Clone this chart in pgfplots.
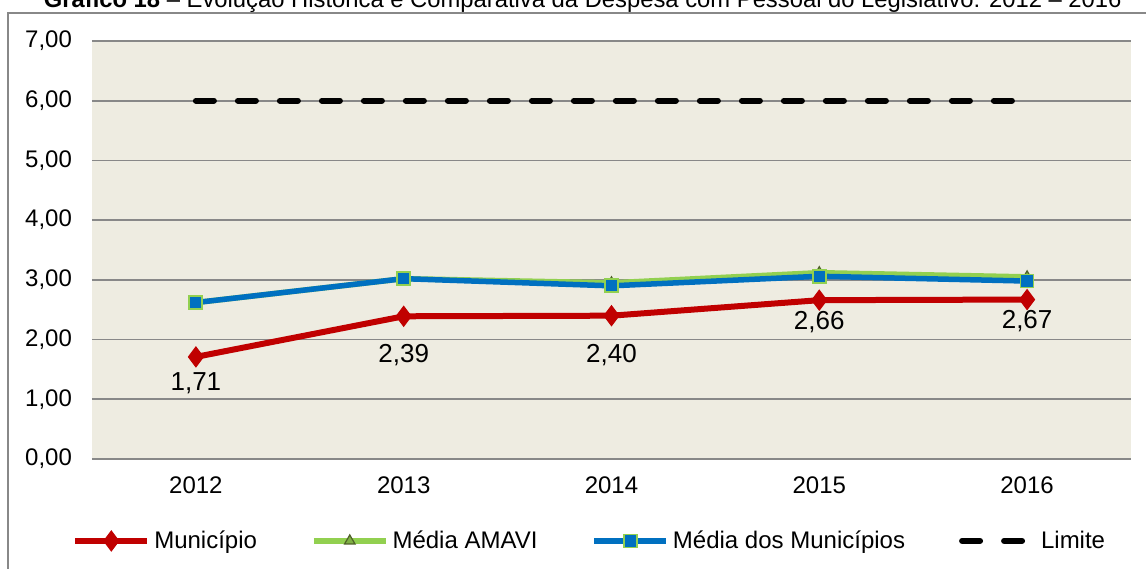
\documentclass[border=0pt]{standalone}
\usepackage{fontspec}
\setmainfont{Liberation Sans}
\usepackage{pgfplots}
\usepackage{pgfplotstable}
\pgfplotsset{compat=1.18}

\definecolor{munred}{HTML}{C00000}
\definecolor{amavi}{HTML}{92D050}
\definecolor{amavidk}{HTML}{4F6228}
\definecolor{medblue}{HTML}{0070C0}
\definecolor{plotbg}{HTML}{EEECE1}
\definecolor{gridgray}{HTML}{888888}

% x: 0=2012 ... 4=2016
\pgfplotstableread{
x y
0 1.71
1 2.39
2 2.40
3 2.66
4 2.67
}\municipio
\pgfplotstableread{
x y
0 2.62
1 3.02
2 2.95
3 3.12
4 3.05
}\amavi
\pgfplotstableread{
x y
0 2.62
1 3.02
2 2.90
3 3.06
4 2.98
}\mediamun
\pgfplotstableread{
x y
0 6
4 6
}\limite

\pgfplotsset{
  munlabel/.style={draw=none, mark=none, forget plot,
    nodes near coords={\pgfmathprintnumber[fixed, fixed zerofill, precision=2, use comma]{\pgfplotspointmeta}},
    every node near coord/.append style={anchor=center, yshift=-#1, text=black, font=\fontsize{13}{15}\selectfont}},
}

\begin{document}
\begin{tikzpicture}
\useasboundingbox (0,0) rectangle (573pt,284pt);
\clip (0,0) rectangle (573pt,284pt);
\fill[white] (0,0) rectangle (573pt,284pt);
% outer chart frame
\draw[gridgray, line width=1pt] (4pt,-5pt) -- (4pt,277.5pt) -- (580pt,277.5pt);
\node[anchor=base east, font=\fontsize{11.9}{14}\selectfont, inner sep=0pt]
  at (561pt,280.3pt) {\textbf{Gráfico 18} – Evolução Histórica e Comparativa da Despesa com Pessoal do Legislativo: 2012 – 2016};

\begin{axis}[
  at={(46pt,54.5pt)}, anchor=south west,
  width=519.5pt, height=209pt, scale only axis,
  xmin=-0.5, xmax=4.5, ymin=0, ymax=7,
  xtick={0,...,4}, xticklabels={2012,2013,2014,2015,2016},
  ytick={0,...,7},
  major tick length=0pt,
  axis line style={draw=none},
  ymajorgrids, grid style={gridgray, line width=0.8pt},
  axis background/.style={fill=plotbg},
  font=\fontsize{12}{14}\selectfont,
  /pgf/number format/assume math mode=true,
  yticklabel style={xshift=-6.5pt, /pgf/number format/.cd, fixed, fixed zerofill, precision=2, use comma},
  xticklabel style={yshift=-5.5pt},
  legend columns=4,
  legend style={at={(0.480,-0.196)}, anchor=center, draw=none, fill=none,
    font=\fontsize{12}{14}\selectfont,
    /tikz/every even column/.append style={column sep=25pt}},
  legend cell align=left,
  legend image code/.code={\draw[#1, mark repeat=2, mark phase=2] plot coordinates {(0pt,0pt) (18pt,0pt) (36pt,0pt)};},
]
\addplot[munred, line width=3pt, mark=diamond*, mark size=5pt,
  mark options={solid, line width=0.5pt, fill=munred, draw=munred}]
  table[x=x, y=y] {\municipio};
\addlegendentry{Município}
\addplot[amavi, line width=2.75pt, mark=triangle*, mark size=3pt,
  mark options={solid, line width=0.6pt, fill=amavi!70!amavidk, draw=amavidk}]
  table[x=x, y=y] {\amavi};
\addlegendentry{Média AMAVI}
\addplot[medblue, line width=2.75pt, mark=square*, mark size=3.25pt,
  mark options={solid, line width=0.9pt, fill=medblue, draw=amavi}]
  table[x=x, y=y] {\mediamun};
\addlegendentry{Média dos Municípios}
\addplot[black, line width=3pt, line cap=round, dash pattern=on 9pt off 12pt]
  table[x=x, y=y] {\limite};
\addlegendentry{Limite}
% data labels for Município (drops below the points differ as in the source)
\addplot[munlabel=13pt] coordinates {(0,1.71)};
\addplot[munlabel=19.5pt] coordinates {(1,2.39) (2,2.40)};
\addplot[munlabel=11pt] coordinates {(3,2.66) (4,2.67)};
\end{axis}
\end{tikzpicture}
\end{document}
